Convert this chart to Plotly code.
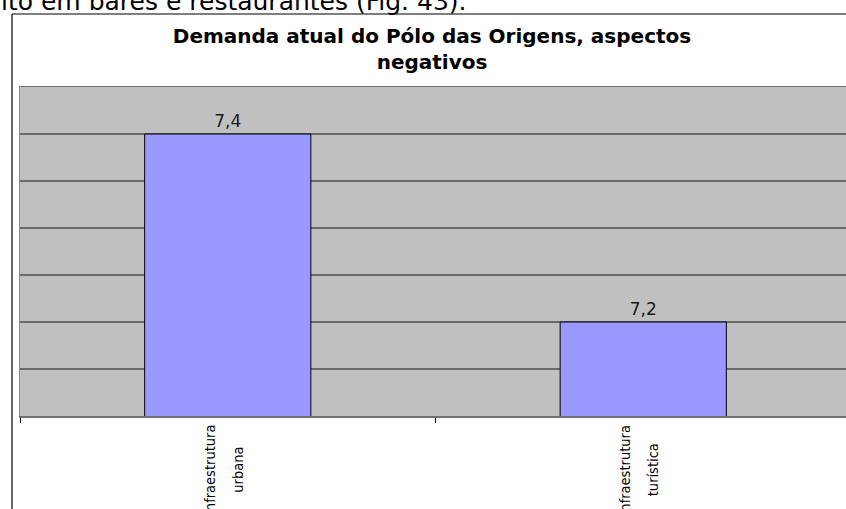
import plotly.graph_objects as go

# ---- data ----
categories = ["infraestrutura<br>urbana", "infraestrutura<br>turística"]
values = [7.4, 7.2]
chart_title = "Demanda atual do Pólo das Origens, aspectos<br>negativos"
page_text = "ito em bares e restaurantes (Fig. 43)."

W, H = 846, 509
ML, MT, MB = 20, 87, 93
plot_h = H - MT - MB
plot_w = W - ML
CAT_W = 415.5  # pixel width of one category slot

def px_x(px):
    return (px - ML) / plot_w

def px_y(py):
    return (H - MB - py) / plot_h

fig = go.Figure()
fig.add_trace(go.Bar(
    x=categories,
    y=values,
    width=0.4,
    marker=dict(color="#9999FF", line=dict(color="black", width=1)),
    texttemplate="%{y:.1f}",
    textposition="outside",
    textfont=dict(family="DejaVu Sans", size=17, color="#1a1a1a"),
    cliponaxis=False,
    hoverinfo="skip",
))

annotations = []
# category labels, rotated, one annotation per line
line_shifts = [-18, 10]
for cat in categories:
    for i, line in enumerate(cat.split("<br>")):
        annotations.append(dict(
            x=cat, xref="x", y=0, yref="paper",
            text=line, showarrow=False, textangle=-90,
            xanchor="center", yanchor="middle",
            xshift=line_shifts[i], yshift=-54,
            font=dict(family="Liberation Sans Narrow, Arial Narrow, DejaVu Sans Condensed", size=14.5, color="black"),
        ))

# text of the page above the chart (cut at the top)
annotations.append(dict(
    x=px_x(-1), xref="paper", y=px_y(18), yref="paper",
    text=page_text, showarrow=False, xanchor="left", yanchor="bottom",
    font=dict(family="DejaVu Sans", size=25, color="black"),
))

shapes = [
    # chart frame: left and top lines
    dict(type="line", xref="paper", yref="paper",
         x0=px_x(12), x1=px_x(12), y0=px_y(14), y1=px_y(520),
         line=dict(color="black", width=1.2)),
    dict(type="line", xref="paper", yref="paper",
         x0=px_x(12), x1=px_x(860), y0=px_y(14), y1=px_y(14),
         line=dict(color="black", width=1.2)),
]

fig.update_layout(
    width=W, height=H,
    margin=dict(l=ML, r=0, t=MT, b=MB, pad=0),
    paper_bgcolor="white",
    plot_bgcolor="#C0C0C0",
    separators=",.",
    showlegend=False,
    bargap=0.6,
    title=dict(
        text=chart_title,
        x=432 / W, xref="container", xanchor="center",
        y=1 - 43 / H, yref="container", yanchor="top",
        font=dict(family="DejaVu Sans", size=20, color="black", weight="bold"),
        pad=dict(t=0, b=0, l=0, r=0),
    ),
    xaxis=dict(
        type="category",
        range=[-0.5, -0.5 + plot_w / CAT_W],
        showticklabels=False,
        ticks="outside", tickson="boundaries", ticklen=5,
        tickcolor="black", tickwidth=1,
        showgrid=False,
        showline=True, mirror=True, linecolor="#707070", linewidth=1.5,
        fixedrange=True,
    ),
    yaxis=dict(
        range=[7.1, 7.45],
        tick0=7.1, dtick=0.05,
        showticklabels=False,
        ticks="",
        showgrid=True, gridcolor="#6a6a6a", gridwidth=1.5,
        zeroline=False,
        showline=True, linecolor="#8a8a8a", linewidth=1.5,
        fixedrange=True,
    ),
    annotations=annotations,
    shapes=shapes,
)

fig.write_html(
    "out.html",
    config={"displayModeBar": False, "staticPlot": True},
    post_script="document.body.style.margin='0';document.body.style.overflow='hidden';",
)
